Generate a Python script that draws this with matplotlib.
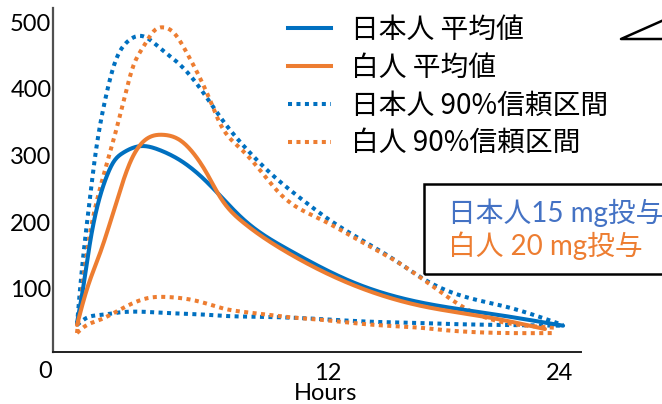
import numpy as np
import matplotlib
matplotlib.use("Agg")
import matplotlib.pyplot as plt
from matplotlib.lines import Line2D
from matplotlib.patches import Rectangle

# Plasma concentration-time profiles (hours after dosing, concentration)
jp_mean_t = [-1.04, -0.73, -0.36, 0.10, 0.52, 0.83, 1.35, 2.23, 3.27, 4.31, 5.35,
             6.39, 7.58, 9.87, 13.30, 16.78, 20.42, 24.21]
jp_mean_c = [49, 100, 170, 233, 270, 289, 304, 314, 308, 293, 270,
             240, 205, 160, 110, 80, 63, 45]

wh_mean_t = [-1.04, -0.52, 0.16, 1.04, 1.71, 2.49, 3.43, 4.31, 4.99, 5.71, 6.39,
             7.58, 9.87, 13.30, 16.78, 20.42, 23.27]
wh_mean_c = [46, 100, 154, 233, 289, 323, 331, 323, 304, 273, 238,
             200, 155, 106, 75, 57, 40]

jp_hi_t = [-1.04, -0.88, -0.36, -0.10, 0.42, 0.94, 1.56, 2.34, 3.27, 4.31, 5.35,
           6.39, 7.95, 8.99, 10.70, 12.10, 13.66, 15.38, 17.14, 19.53, 21.30,
           23.01, 24.21]
jp_hi_c = [46, 100, 238, 298, 383, 440, 470, 479, 461, 436, 401,
           358, 304, 274, 233, 203, 175, 145, 112, 85, 73,
           58, 46]

wh_hi_t = [-1.04, -0.78, -0.36, 0.0, 1.04, 1.56, 1.87, 2.39, 3.01, 3.43, 3.95,
           4.68, 5.35, 5.87, 6.39, 7.43, 8.47, 9.60, 11.58, 13.66, 15.74,
           17.82, 19.53, 21.30, 23.79]
wh_hi_c = [34, 98, 184, 233, 343, 402, 433, 462, 488, 492, 485,
           453, 416, 383, 348, 311, 278, 240, 205, 172, 138,
           96, 65, 49, 42]

jp_lo_t = [-1.04, -0.52, 0.16, 1.19, 2.23, 3.64, 5.35, 6.39, 8.99, 11.58,
           14.18, 16.78, 17.82, 21.30, 24.21]
jp_lo_c = [46, 57, 61, 65, 66, 64, 62, 60, 58, 55,
           51, 49, 48, 46, 45]

wh_lo_t = [-1.04, -0.73, 0.16, 1.19, 2.75, 3.64, 4.68, 5.71, 6.39, 8.10,
           9.87, 11.58, 13.30, 15.06, 16.78, 17.82, 21.30, 23.79]
wh_lo_c = [34, 42, 54, 69, 87, 88, 85, 78, 72, 64,
           58, 54, 49, 45, 42, 39, 34, 34]

y_ticks = [100, 200, 300, 400, 500]
x_ticks = [12, 24]
legend_labels = ["日本人 平均値", "白人 平均値", "日本人 90%信頼区間", "白人 90%信頼区間"]
dose_labels = ["日本人15 mg投与", "白人 20 mg投与"]

BLUE = "#0070C0"
ORANGE = "#ED7D31"
LW = 2.9
DOT = (0, (1, 1.1))

plt.rcParams["font.family"] = ["Lato", "Noto Sans CJK JP", "DejaVu Sans"]


def smooth(x, y, n=500):
    """Natural cubic spline through the given points."""
    x = np.asarray(x, float)
    y = np.asarray(y, float)
    N = len(x)
    h = np.diff(x)
    A = np.zeros((N, N))
    r = np.zeros(N)
    A[0, 0] = A[-1, -1] = 1.0
    for i in range(1, N - 1):
        A[i, i - 1] = h[i - 1]
        A[i, i] = 2 * (h[i - 1] + h[i])
        A[i, i + 1] = h[i]
        r[i] = 6 * ((y[i + 1] - y[i]) / h[i] - (y[i] - y[i - 1]) / h[i - 1])
    M = np.linalg.solve(A, r)
    xs = np.linspace(x[0], x[-1], n)
    i = np.clip(np.searchsorted(x, xs) - 1, 0, N - 2)
    hi = h[i]
    a = x[i + 1] - xs
    b = xs - x[i]
    ys = (M[i] * a**3 / (6 * hi) + M[i + 1] * b**3 / (6 * hi)
          + (y[i] / hi - M[i] * hi / 6) * a + (y[i + 1] / hi - M[i + 1] * hi / 6) * b)
    return xs, ys


W, H = 662, 404
fig = plt.figure(figsize=(W / 100, H / 100), dpi=100)
ax = fig.add_axes([53.5 / W, 1 - 352 / H, (581 - 53.5) / W, (352 - 8) / H])

dotted = dict(linestyle=DOT, dash_capstyle="butt", lw=LW)
ax.plot(*smooth(jp_hi_t, jp_hi_c), color=BLUE, **dotted)
ax.plot(*smooth(jp_lo_t, jp_lo_c), color=BLUE, **dotted)
ax.plot(*smooth(wh_hi_t, wh_hi_c), color=ORANGE, **dotted)
ax.plot(*smooth(wh_lo_t, wh_lo_c), color=ORANGE, **dotted)
ax.plot(*smooth(jp_mean_t, jp_mean_c), color=BLUE, lw=LW, solid_capstyle="round")
ax.plot(*smooth(wh_mean_t, wh_mean_c), color=ORANGE, lw=LW, solid_capstyle="round")

ax.set_xlim(-2.26, 25.14)
ax.set_ylim(5.6, 521)
ax.set_xticks(x_ticks)
ax.set_yticks(y_ticks)
ax.tick_params(axis="both", length=0, labelsize=17)
ax.tick_params(axis="y", pad=1.5)
ax.tick_params(axis="x", pad=8)
for s in ("top", "right"):
    ax.spines[s].set_visible(False)
ax.spines["left"].set_color("#505050")
ax.spines["left"].set_linewidth(1.6)
ax.spines["bottom"].set_color("#202020")
ax.spines["bottom"].set_linewidth(1.4)

fig.text(326 / W, 1 - 393 / H, "Hours", fontsize=17, ha="center", va="center")
fig.text(45 / W, 1 - 371 / H, "0", fontsize=17, ha="center", va="center")

handles = [
    Line2D([], [], color=BLUE, lw=LW),
    Line2D([], [], color=ORANGE, lw=LW),
    Line2D([], [], color=BLUE, **dotted),
    Line2D([], [], color=ORANGE, **dotted),
]
fig.legend(handles, legend_labels, loc="upper left",
           bbox_to_anchor=(288 / W, 1 - 15 / H), bbox_transform=fig.transFigure,
           frameon=False, handlelength=1.55, handletextpad=0.72,
           labelspacing=0.28, borderpad=0, borderaxespad=0,
           prop={"family": ["Noto Sans CJK JP", "DejaVu Sans"], "size": 20})

# Dose annotation box running off the right edge
fig.patches.append(Rectangle((424 / W, 1 - 274 / H), 300 / W, 90 / H,
                             transform=fig.transFigure, fill=False,
                             edgecolor="black", lw=1.8))
fig.text(448 / W, 1 - 213 / H, dose_labels[0], color="#4472C4", fontsize=20,
         ha="left", va="center")
fig.text(448 / W, 1 - 246 / H, dose_labels[1], color=ORANGE, fontsize=20,
         ha="left", va="center")

# Callout pointer in the top-right corner
fig.add_artist(Line2D([700 / W, 621 / W, 700 / W],
                      [1 - 4 / H, 1 - 39 / H, 1 - 39 / H],
                      transform=fig.transFigure, color="black", lw=1.8))

fig.savefig("out.png", dpi=100)
